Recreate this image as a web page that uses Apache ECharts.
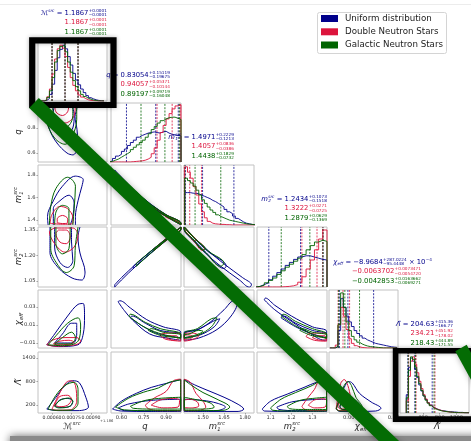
<!DOCTYPE html>
<html><head><meta charset="utf-8">
<script src="https://cdn.jsdelivr.net/npm/echarts@6/dist/echarts.min.js"></script>
<style>html,body{margin:0;padding:0;background:#fff}#c{width:471px;height:441px}</style>
</head><body><div id="c"></div>
<script>
// ---------------- data ----------------
const populations = ['Uniform distribution', 'Double Neutron Stars', 'Galactic Neutron Stars'];
const popColors = ['#00008b', '#dc143c', '#006400'];

// posterior summaries: [median, +err, -err] for uniform, DNS, GNS
const summaryMc  = [['1.1867', '0.0001', '0.0001'], ['1.1867', '0.0001', '0.0001'], ['1.1867', '0.0001', '0.0001']];
const summaryQ   = [['0.83054', '0.15119', '0.19675'], ['0.94057', '0.05371', '0.10144'], ['0.89197', '0.09719', '0.16048']];
const summaryM1  = [['1.4971', '0.2229', '0.1213'], ['1.4057', '0.0836', '0.0386'], ['1.4438', '0.1829', '0.0732']];
const summaryM2  = [['1.2434', '0.1073', '0.1518'], ['1.3222', '0.0271', '0.0725'], ['1.2879', '0.0629', '0.1369']];
const summaryChi = [['−8.9684', '287.0224', '95.4448'], ['−0.0063702', '0.0073471', '0.0054720'], ['−0.0042853', '0.0163662', '0.0069271']];
const chiUniformExponent = -4;
const summaryLam = [['204.63', '415.36', '166.77'], ['234.21', '451.92', '178.02'], ['218.43', '444.89', '171.55']];
const mcOffset = 1.186;

// tick values and labels
const ticksMcX  = [0.0006, 0.00075, 0.0009];   const tickLabelsMcX  = ['0.00060', '0.00075', '0.00090'];
const ticksQX   = [0.6, 0.75, 0.9];            const tickLabelsQX   = ['0.60', '0.75', '0.90'];
const ticksQY   = [0.6, 0.8];                  const tickLabelsQY   = ['0.6', '0.8'];
const ticksM1X  = [1.5, 1.65, 1.8];            const tickLabelsM1X  = ['1.50', '1.65', '1.80'];
const ticksM1Y  = [1.4, 1.6, 1.8];             const tickLabelsM1Y  = ['1.4', '1.6', '1.8'];
const ticksM2X  = [1.1, 1.2, 1.3];             const tickLabelsM2X  = ['1.1', '1.2', '1.3'];
const ticksM2Y  = [1.05, 1.2, 1.35];           const tickLabelsM2Y  = ['1.05', '1.20', '1.35'];
const ticksChiX = [0, 0.05];                   const tickLabelsChiX = ['0.00', '0.05'];
const ticksChiY = [-0.01, 0.01, 0.03];         const tickLabelsChiY = ['−0.01', '0.01', '0.03'];
const ticksLamX = [400, 800, 1200];            const tickLabelsLamX = ['400', '800', '1200'];
const ticksLamY = [200, 800, 1400];            const tickLabelsLamY = ['200', '800', '1400'];

// marginal histograms (fraction of panel height), bins from start with fixed width
const histMcBins = [0.0005, 0.00002];
const histMcUniform = [0,0,0.01,0.04,0.11,0.28,0.51,0.72,0.86,0.93,0.87,0.74,0.6,0.46,0.35,0.27,0.2,0.14,0.09,0.055,0.035,0.02,0.01,0.005,0];
const histMcDns     = [0,0,0.02,0.07,0.2,0.45,0.7,0.87,0.93,0.88,0.74,0.56,0.39,0.26,0.17,0.1,0.065,0.04,0.02,0.01,0.005,0,0,0,0];
const histMcGns     = [0,0,0.02,0.06,0.17,0.39,0.65,0.84,0.91,0.93,0.82,0.65,0.48,0.34,0.24,0.17,0.11,0.075,0.045,0.03,0.015,0.01,0,0,0];

const histQBins = [0.52, 0.02];
const histQUniform = [0.02,0.06,0.1,0.13,0.18,0.22,0.28,0.33,0.37,0.42,0.45,0.47,0.49,0.5,0.51,0.5,0.49,0.51,0.52,0.49,0.47,0.46,0.45,0.44];
const histQDns     = [0,0,0,0,0,0,0,0.005,0.01,0.015,0.02,0.03,0.05,0.08,0.14,0.24,0.37,0.5,0.62,0.73,0.82,0.9,0.95,0.97];
const histQGns     = [0.01,0.03,0.05,0.08,0.11,0.14,0.17,0.21,0.25,0.29,0.33,0.37,0.42,0.48,0.55,0.6,0.66,0.7,0.73,0.75,0.76,0.76,0.74,0.72];

const histM1Bins = [1.37, 0.02];
const histM1Uniform = [0.54,0.54,0.53,0.53,0.52,0.5,0.48,0.46,0.44,0.41,0.39,0.36,0.33,0.3,0.26,0.22,0.19,0.15,0.11,0.08,0.05,0.03,0.02,0.01,0];
const histM1Dns     = [0.97,0.88,0.78,0.64,0.5,0.35,0.22,0.12,0.06,0.03,0.02,0.015,0.01,0.01,0.005,0.005,0,0,0,0,0,0,0,0,0];
const histM1Gns     = [0.78,0.74,0.7,0.65,0.58,0.5,0.42,0.36,0.3,0.25,0.21,0.17,0.14,0.12,0.1,0.08,0.07,0.06,0.05,0.04,0.03,0.02,0.015,0.01,0.005];

const histM2Bins = [1.03, 0.02];
const histM2Uniform = [0.01,0.04,0.07,0.12,0.18,0.24,0.3,0.36,0.41,0.46,0.5,0.52,0.52,0.5,0.48,0.46,0.45];
const histM2Dns     = [0,0,0,0,0,0,0.005,0.01,0.02,0.04,0.08,0.17,0.3,0.45,0.62,0.8,0.95];
const histM2Gns     = [0.01,0.03,0.07,0.11,0.15,0.21,0.27,0.33,0.38,0.43,0.48,0.54,0.62,0.69,0.75,0.78,0.76];

const histChiBins = [-0.021, 0.003];
const histChiUniform = [0,0,0.02,0.3,0.85,0.7,0.55,0.45,0.37,0.3,0.25,0.21,0.17,0.14,0.12,0.1,0.08,0.07,0.06,0.05,0.04,0.03,0.02,0.015,0.01];
const histChiDns     = [0,0,0.05,0.4,0.7,0.55,0.32,0.16,0.08,0.04,0.02,0.01,0.005,0,0,0,0,0,0,0,0,0,0,0,0];
const histChiGns     = [0,0,0.03,0.4,0.95,0.7,0.45,0.3,0.2,0.14,0.1,0.07,0.05,0.035,0.025,0.02,0.015,0.01,0.005,0,0,0,0,0,0];

const histLamBins = [0, 50];
const histLamUniform = [0.3,0.75,0.9,0.85,0.72,0.58,0.46,0.36,0.28,0.22,0.17,0.13,0.1,0.08,0.065,0.05,0.04,0.035,0.03,0.025,0.02,0.02,0.015,0.015,0.01,0.01,0.01,0.005,0.005,0.005];
const histLamDns     = [0.2,0.6,0.85,0.92,0.8,0.66,0.52,0.4,0.3,0.23,0.17,0.13,0.1,0.08,0.06,0.05,0.04,0.03,0.025,0.02,0.015,0.012,0.01,0.008,0.006,0.005,0.004,0.003,0.002,0.001];
const histLamGns     = [0.25,0.7,0.92,0.88,0.75,0.6,0.48,0.37,0.28,0.21,0.16,0.12,0.09,0.07,0.055,0.045,0.035,0.03,0.025,0.02,0.016,0.013,0.01,0.008,0.006,0.005,0.004,0.003,0.002,0.001];

// credible-region contours [x, y]: uniform 50%, uniform 90%, DNS 50%, DNS 90%, GNS 50%, GNS 90%
const contourQMc = [
  [[0.00062,1.0],[0.00061,0.92],[0.00066,0.82],[0.00072,0.76],[0.00076,0.8],[0.00077,0.9],[0.00075,1.0]],
  [[0.00055,1.0],[0.000546,0.94],[0.000584,0.78],[0.000638,0.68],[0.000715,0.6],[0.00076,0.585],[0.0008,0.65],[0.000792,0.79],[0.000777,0.89],[0.000792,0.97],[0.000777,1.0]],
  [[0.00062,1.0],[0.00063,0.93],[0.00068,0.9],[0.00072,0.93],[0.00073,1.0]],
  [[0.00054,1.0],[0.00056,0.9],[0.00062,0.85],[0.0007,0.84],[0.00077,0.9],[0.00078,1.0]],
  [[0.0006,1.0],[0.00062,0.88],[0.00067,0.8],[0.00073,0.82],[0.00076,0.9],[0.00076,1.0]],
  [[0.00055,1.0],[0.00056,0.85],[0.00062,0.72],[0.0007,0.67],[0.00075,0.72],[0.00079,0.87],[0.00079,1.0]]
];
const contourM1Mc = [
  [[0.00061,1.355],[0.00061,1.5],[0.00066,1.57],[0.00073,1.62],[0.00077,1.55],[0.00076,1.43],[0.00074,1.355]],
  [[0.00057,1.355],[0.000565,1.43],[0.00061,1.57],[0.00068,1.7],[0.00078,1.79],[0.00084,1.76],[0.00083,1.7],[0.0008,1.57],[0.00078,1.43],[0.00078,1.355]],
  [[0.00064,1.375],[0.00064,1.41],[0.00068,1.44],[0.00072,1.41],[0.00072,1.375],[0.00068,1.368],[0.00064,1.375]],
  [[0.000585,1.37],[0.0006,1.45],[0.00066,1.52],[0.00072,1.5],[0.00076,1.42],[0.00076,1.37],[0.00068,1.362],[0.000585,1.37]],
  [[0.00062,1.355],[0.00063,1.47],[0.00068,1.53],[0.00073,1.5],[0.00073,1.355]],
  [[0.00058,1.355],[0.00059,1.52],[0.00063,1.68],[0.00072,1.78],[0.00078,1.7],[0.00077,1.5],[0.00076,1.355]]
];
const contourM2Mc = [
  [[0.00062,1.368],[0.00062,1.25],[0.00066,1.16],[0.00072,1.13],[0.00076,1.17],[0.00075,1.28],[0.00075,1.368]],
  [[0.000584,1.368],[0.000584,1.22],[0.00065,1.127],[0.000754,1.068],[0.00083,1.056],[0.000854,1.103],[0.000815,1.215],[0.0008,1.309],[0.000815,1.368]],
  [[0.00065,1.35],[0.00063,1.33],[0.00066,1.28],[0.00071,1.27],[0.00074,1.31],[0.00071,1.35],[0.00065,1.35]],
  [[0.00062,1.362],[0.00058,1.34],[0.00062,1.27],[0.0007,1.22],[0.00077,1.25],[0.0008,1.32],[0.00076,1.362],[0.00062,1.362]],
  [[0.00063,1.368],[0.00063,1.27],[0.00068,1.21],[0.00073,1.24],[0.00074,1.368]],
  [[0.00059,1.368],[0.00059,1.24],[0.00064,1.15],[0.00071,1.1],[0.00077,1.14],[0.00078,1.26],[0.0008,1.368]]
];
const contourChiMc = [
  [[0.00062,-0.01],[0.00068,0.0],[0.00075,0.012],[0.00079,0.012],[0.00079,0.0],[0.00076,-0.01],[0.00062,-0.01]],
  [[0.00056,-0.012],[0.00062,0.0],[0.00072,0.02],[0.0008,0.033],[0.00084,0.034],[0.00085,0.02],[0.00084,0.0],[0.0008,-0.012],[0.00065,-0.014],[0.00056,-0.012]],
  [[0.00061,-0.011],[0.00066,-0.008],[0.00073,-0.007],[0.00077,-0.009],[0.00073,-0.0115],[0.00064,-0.012],[0.00061,-0.011]],
  [[0.00056,-0.012],[0.0006,-0.007],[0.0007,-0.004],[0.00079,-0.004],[0.00082,-0.008],[0.00078,-0.012],[0.00062,-0.0135],[0.00056,-0.012]],
  [[0.00062,-0.011],[0.00068,-0.004],[0.00075,0.002],[0.00078,-0.004],[0.00074,-0.011],[0.00062,-0.011]],
  [[0.00057,-0.012],[0.00063,-0.002],[0.00072,0.012],[0.0008,0.018],[0.00082,0.01],[0.0008,-0.008],[0.00068,-0.013],[0.00057,-0.012]]
];
const contourLamMc = [
  [[0.00062,180],[0.00066,330],[0.00072,370],[0.00076,300],[0.00074,170],[0.00066,140],[0.00062,180]],
  [[0.00056,100],[0.00063,400],[0.0007,700],[0.00076,820],[0.00081,770],[0.00086,400],[0.00088,150],[0.0008,60],[0.00065,60],[0.00056,100]],
  [[0.00062,200],[0.00066,420],[0.00072,450],[0.00075,350],[0.00072,200],[0.00066,160],[0.00062,200]],
  [[0.0006,100],[0.00065,450],[0.00071,780],[0.00075,820],[0.00078,700],[0.00079,300],[0.00074,80],[0.00063,70],[0.0006,100]],
  [[0.00062,170],[0.00066,320],[0.00073,380],[0.00076,300],[0.00073,160],[0.00065,130],[0.00062,170]],
  [[0.00057,100],[0.00063,450],[0.0007,700],[0.00077,780],[0.0008,600],[0.0008,250],[0.00074,70],[0.00062,70],[0.00057,100]]
];
const contourM1Q = [
  [[0.68,1.665],[0.8,1.532],[0.9,1.443],[1.0,1.366],[1.0,1.36],[0.9,1.436],[0.8,1.522],[0.68,1.65],[0.68,1.665]],
  [[0.555,1.845],[0.6,1.782],[0.7,1.648],[0.8,1.538],[0.9,1.447],[1.0,1.37],[1.0,1.355],[0.9,1.43],[0.8,1.516],[0.7,1.622],[0.6,1.76],[0.555,1.83],[0.555,1.845]],
  [[0.89,1.448],[0.95,1.403],[1.0,1.366],[1.0,1.36],[0.95,1.396],[0.89,1.44],[0.89,1.448]],
  [[0.82,1.51],[0.9,1.445],[1.0,1.368],[1.0,1.357],[0.9,1.433],[0.82,1.497],[0.82,1.51]],
  [[0.82,1.515],[0.9,1.444],[1.0,1.366],[1.0,1.36],[0.9,1.436],[0.82,1.502],[0.82,1.515]],
  [[0.7,1.65],[0.8,1.535],[0.9,1.446],[1.0,1.369],[1.0,1.356],[0.9,1.432],[0.8,1.52],[0.7,1.625],[0.7,1.65]]
];
const contourM2Q = [
  [[0.68,1.138],[0.8,1.226],[0.9,1.297],[1.0,1.366],[1.0,1.36],[0.9,1.291],[0.8,1.218],[0.68,1.124],[0.68,1.138]],
  [[0.555,1.028],[0.6,1.07],[0.7,1.152],[0.8,1.228],[0.9,1.3],[1.0,1.37],[1.0,1.357],[0.9,1.288],[0.8,1.215],[0.7,1.14],[0.6,1.056],[0.555,1.014],[0.555,1.028]],
  [[0.89,1.292],[0.95,1.33],[1.0,1.366],[1.0,1.36],[0.95,1.324],[0.89,1.284],[0.89,1.292]],
  [[0.82,1.242],[0.9,1.299],[1.0,1.368],[1.0,1.358],[0.9,1.289],[0.82,1.23],[0.82,1.242]],
  [[0.82,1.24],[0.9,1.296],[1.0,1.366],[1.0,1.36],[0.9,1.29],[0.82,1.232],[0.82,1.24]],
  [[0.7,1.155],[0.8,1.228],[0.9,1.298],[1.0,1.368],[1.0,1.358],[0.9,1.29],[0.8,1.216],[0.7,1.137],[0.7,1.155]]
];
const contourM2M1 = [
  [[1.366,1.366],[1.443,1.297],[1.532,1.226],[1.665,1.138],[1.65,1.124],[1.522,1.218],[1.436,1.291],[1.366,1.36],[1.366,1.366]],
  [[1.365,1.37],[1.447,1.3],[1.538,1.228],[1.648,1.152],[1.782,1.07],[1.845,1.028],[1.83,1.014],[1.76,1.056],[1.622,1.14],[1.516,1.215],[1.43,1.288],[1.365,1.357],[1.365,1.37]],
  [[1.366,1.366],[1.403,1.33],[1.448,1.292],[1.44,1.284],[1.396,1.324],[1.366,1.36],[1.366,1.366]],
  [[1.368,1.368],[1.445,1.299],[1.51,1.242],[1.497,1.23],[1.433,1.289],[1.368,1.358],[1.368,1.368]],
  [[1.366,1.366],[1.444,1.296],[1.515,1.24],[1.502,1.232],[1.436,1.29],[1.366,1.36],[1.366,1.366]],
  [[1.369,1.368],[1.446,1.298],[1.535,1.228],[1.65,1.155],[1.625,1.137],[1.52,1.216],[1.432,1.29],[1.369,1.358],[1.369,1.368]]
];
const contourChiQ = [
  [[0.66,0.018],[0.75,0.008],[0.85,0.0],[0.998,-0.004],[0.998,0.0],[0.86,0.004],[0.76,0.012],[0.67,0.02],[0.66,0.018]],
  [[0.577,0.036],[0.62,0.026],[0.678,0.015],[0.79,0.0],[0.906,-0.0045],[0.998,-0.007],[0.998,0.002],[0.88,0.008],[0.77,0.016],[0.66,0.029],[0.59,0.037],[0.577,0.036]],
  [[0.9,-0.004],[0.95,-0.007],[0.98,-0.006],[0.97,-0.002],[0.92,-0.002],[0.9,-0.004]],
  [[0.86,-0.002],[0.9,-0.006],[0.998,-0.008],[0.998,0.0],[0.92,0.001],[0.87,0.0],[0.86,-0.002]],
  [[0.78,0.004],[0.87,-0.002],[0.998,-0.004],[0.998,-0.001],[0.88,0.002],[0.8,0.006],[0.78,0.004]],
  [[0.65,0.02],[0.74,0.009],[0.85,0.001],[0.998,-0.005],[0.998,0.0],[0.86,0.006],[0.76,0.013],[0.66,0.022],[0.65,0.02]]
];
const contourChiM1 = [
  [[1.367,-0.004],[1.48,-0.001],[1.58,0.008],[1.62,0.017],[1.57,0.014],[1.48,0.006],[1.367,0.0],[1.367,-0.004]],
  [[1.367,-0.007],[1.47,-0.0045],[1.6,0.005],[1.7,0.02],[1.745,0.035],[1.72,0.037],[1.65,0.027],[1.55,0.013],[1.45,0.004],[1.367,0.002],[1.367,-0.007]],
  [[1.367,-0.006],[1.41,-0.005],[1.43,-0.003],[1.4,-0.001],[1.367,-0.002],[1.367,-0.006]],
  [[1.367,-0.008],[1.43,-0.006],[1.47,-0.002],[1.43,0.001],[1.367,0.0],[1.367,-0.008]],
  [[1.367,-0.004],[1.43,-0.002],[1.5,0.003],[1.47,0.004],[1.4,0.0],[1.367,-0.001],[1.367,-0.004]],
  [[1.367,-0.005],[1.47,-0.001],[1.56,0.008],[1.6,0.018],[1.56,0.017],[1.46,0.006],[1.367,0.001],[1.367,-0.005]]
];
const contourChiM2 = [
  [[1.15,0.018],[1.22,0.008],[1.3,0.0],[1.368,-0.004],[1.368,0.0],[1.3,0.004],[1.22,0.012],[1.16,0.02],[1.15,0.018]],
  [[1.07,0.038],[1.12,0.027],[1.2,0.014],[1.28,0.002],[1.36,-0.007],[1.368,-0.007],[1.368,0.003],[1.3,0.008],[1.2,0.02],[1.12,0.032],[1.075,0.04],[1.07,0.038]],
  [[1.3,-0.004],[1.34,-0.007],[1.365,-0.006],[1.36,-0.002],[1.32,-0.002],[1.3,-0.004]],
  [[1.27,-0.003],[1.31,-0.007],[1.368,-0.008],[1.368,0.0],[1.32,0.001],[1.28,0.0],[1.27,-0.003]],
  [[1.24,0.004],[1.3,-0.002],[1.368,-0.004],[1.368,-0.001],[1.3,0.002],[1.25,0.006],[1.24,0.004]],
  [[1.15,0.02],[1.22,0.009],[1.3,0.0],[1.368,-0.005],[1.368,0.0],[1.3,0.006],[1.22,0.014],[1.16,0.022],[1.15,0.02]]
];
const contourLamQ = [
  [[0.58,130],[0.65,230],[0.8,320],[0.998,350],[0.998,60],[0.8,50],[0.62,60],[0.58,130]],
  [[0.54,100],[0.6,300],[0.7,500],[0.8,650],[0.9,750],[0.998,850],[0.998,40],[0.8,40],[0.6,50],[0.54,100]],
  [[0.8,200],[0.86,330],[0.95,370],[0.99,320],[0.98,150],[0.88,130],[0.8,200]],
  [[0.76,200],[0.82,380],[0.9,550],[0.95,820],[0.998,860],[0.998,60],[0.85,60],[0.78,110],[0.76,200]],
  [[0.66,170],[0.75,310],[0.85,370],[0.998,400],[0.998,100],[0.8,100],[0.68,120],[0.66,170]],
  [[0.56,150],[0.65,380],[0.75,530],[0.85,640],[0.92,780],[0.998,840],[0.998,60],[0.8,60],[0.62,80],[0.56,150]]
];
const contourLamM1 = [
  [[1.367,350],[1.5,320],[1.6,250],[1.66,150],[1.6,60],[1.45,50],[1.367,60],[1.367,350]],
  [[1.367,850],[1.45,700],[1.55,550],[1.65,400],[1.75,220],[1.79,100],[1.75,40],[1.55,40],[1.367,40],[1.367,850]],
  [[1.367,330],[1.41,350],[1.46,280],[1.47,180],[1.42,130],[1.367,140],[1.367,330]],
  [[1.367,860],[1.41,780],[1.45,500],[1.5,300],[1.52,150],[1.45,60],[1.367,60],[1.367,860]],
  [[1.367,400],[1.45,340],[1.55,260],[1.58,150],[1.5,100],[1.367,100],[1.367,400]],
  [[1.367,840],[1.42,700],[1.5,520],[1.6,350],[1.69,150],[1.65,70],[1.5,60],[1.367,60],[1.367,840]]
];
const contourLamM2 = [
  [[1.13,150],[1.2,280],[1.3,340],[1.368,350],[1.368,60],[1.22,60],[1.14,90],[1.13,150]],
  [[1.06,100],[1.1,300],[1.18,480],[1.26,650],[1.32,780],[1.368,820],[1.368,40],[1.2,40],[1.07,50],[1.06,100]],
  [[1.28,200],[1.31,330],[1.35,360],[1.368,320],[1.36,150],[1.31,130],[1.28,200]],
  [[1.25,170],[1.28,400],[1.31,600],[1.33,800],[1.368,860],[1.368,60],[1.3,60],[1.26,100],[1.25,170]],
  [[1.18,170],[1.24,320],[1.32,380],[1.368,400],[1.368,90],[1.25,90],[1.19,110],[1.18,170]],
  [[1.1,130],[1.15,350],[1.22,520],[1.3,700],[1.34,820],[1.368,830],[1.368,50],[1.2,50],[1.11,70],[1.1,130]]
];
const contourLamChi = [
  [[-0.01,150],[-0.006,350],[0.0,420],[0.006,350],[0.012,200],[0.006,80],[-0.005,70],[-0.01,150]],
  [[-0.014,100],[-0.01,350],[-0.005,650],[0.0,800],[0.004,760],[0.012,500],[0.025,280],[0.036,120],[0.03,50],[0.01,40],[-0.01,40],[-0.014,100]],
  [[-0.012,150],[-0.01,350],[-0.006,420],[-0.003,330],[-0.002,170],[-0.006,100],[-0.01,110],[-0.012,150]],
  [[-0.014,120],[-0.012,400],[-0.009,750],[-0.005,850],[-0.001,700],[0.002,400],[0.003,150],[-0.003,60],[-0.011,60],[-0.014,120]],
  [[-0.01,150],[-0.007,350],[-0.002,420],[0.003,330],[0.005,160],[0.0,90],[-0.007,90],[-0.01,150]],
  [[-0.014,100],[-0.01,400],[-0.005,700],[-0.001,800],[0.003,700],[0.008,400],[0.015,150],[0.008,50],[-0.01,50],[-0.014,100]]
];

// ---------------- layout ----------------
const FONT = '"DejaVu Sans"';
const colLeft = [38, 111, 184, 257, 329, 400];
const colWidth = [69, 70, 70, 70, 69, 69];
const rowTop = [41, 103, 165, 227, 290, 352];
const rowHeight = [60, 59, 60, 60, 58, 61];

const params = [
  { x: [0.000492, 0.001023], tx: [ticksMcX, tickLabelsMcX], tickFont: 4.6, hist: [histMcBins, histMcUniform, histMcDns, histMcGns], summary: summaryMc },
  { x: [0.53, 1.0], y: [0.528, 1.0], tx: [ticksQX, tickLabelsQX], ty: [ticksQY, tickLabelsQY], hist: [histQBins, histQUniform, histQDns, histQGns], summary: summaryQ },
  { x: [1.365, 1.863], y: [1.355, 1.889], tx: [ticksM1X, tickLabelsM1X], ty: [ticksM1Y, tickLabelsM1Y], hist: [histM1Bins, histM1Uniform, histM1Dns, histM1Gns], summary: summaryM1 },
  { x: [1.035, 1.37], y: [1.015, 1.368], tx: [ticksM2X, tickLabelsM2X], ty: [ticksM2Y, tickLabelsM2Y], hist: [histM2Bins, histM2Uniform, histM2Dns, histM2Gns], summary: summaryM2 },
  { x: [-0.022, 0.055], y: [-0.0156, 0.049], tx: [ticksChiX, tickLabelsChiX], ty: [ticksChiY, tickLabelsChiY], hist: [histChiBins, histChiUniform, histChiDns, histChiGns], summary: summaryChi },
  { x: [-150, 1500], y: [0, 1550], tx: [ticksLamX, tickLabelsLamX], ty: [ticksLamY, tickLabelsLamY], hist: [histLamBins, histLamUniform, histLamDns, histLamGns], summary: summaryLam }
];
const contours = {
  '1,0': contourQMc, '2,0': contourM1Mc, '3,0': contourM2Mc, '4,0': contourChiMc, '5,0': contourLamMc,
  '2,1': contourM1Q, '3,1': contourM2Q, '4,1': contourChiQ, '5,1': contourLamQ,
  '3,2': contourM2M1, '4,2': contourChiM1, '5,2': contourLamM1,
  '4,3': contourChiM2, '5,3': contourLamM2,
  '5,4': contourLamChi
};

const num = s => parseFloat(String(s).replace('−', '-'));
function quantiles(pi, k) {
  const [m, p, n] = params[pi].summary[k];
  let scale = 1, shift = 0;
  if (pi === 4 && k === 0) scale = Math.pow(10, chiUniformExponent);
  if (pi === 0) shift = -mcOffset;
  const med = num(m);
  return [(med - num(n)) * scale + shift, med * scale + shift, (med + num(p)) * scale + shift];
}

function labelFn(ticks) {
  return v => {
    const i = ticks[0].findIndex(t => Math.abs(t - v) <= Math.abs(t) * 1e-6 + 1e-12);
    return i >= 0 ? ticks[1][i] : '';
  };
}
function tickLabel(show, ticks, size) {
  return { show, customValues: ticks[0], formatter: labelFn(ticks), fontSize: size || 5.2, fontFamily: 'DejaVu Sans', color: '#333', margin: 2.5,
    hideOverlap: false, showMinLabel: true, showMaxLabel: true };
}

const grids = [], xAxes = [], yAxes = [], series = [];
let gi = 0;
for (let r = 0; r < 6; r++) {
  for (let c = 0; c <= r; c++) {
    grids.push({ left: colLeft[c], top: rowTop[r], width: colWidth[c], height: rowHeight[r],
      show: true, borderColor: '#c2c2c2', borderWidth: 1, backgroundColor: 'transparent' });
    const px = params[c];
    const showX = r === 5, showY = c === 0 && r > 0;
    xAxes.push({ type: 'value', gridIndex: gi, min: px.x[0], max: px.x[1],
      axisLine: { show: false }, splitLine: { show: false },
      axisTick: { show: showX, customValues: px.tx[0], length: 1.6, lineStyle: { color: '#777', width: 0.6 } },
      axisLabel: tickLabel(showX, px.tx, px.tickFont) });
    if (r === c) {
      yAxes.push({ type: 'value', gridIndex: gi, min: 0, max: 1, axisLine: { show: false }, splitLine: { show: false }, axisTick: { show: false }, axisLabel: { show: false } });
      const h = px.hist;
      for (let k = 0; k < 3; k++) {
        quantiles(c, k).forEach(v => series.push({
          type: 'line', xAxisIndex: gi, yAxisIndex: gi, data: [[v, 0], [v, 1]], symbol: 'none', silent: true, clip: true, z: 2,
          lineStyle: { color: popColors[k], width: 0.8, type: [2, 1.3] }
        }));
      }
      for (let k = 0; k < 3; k++) {
        const counts = h[k + 1], start = h[0][0], w = h[0][1];
        const pts = [[start, 0]];
        counts.forEach((v, i) => pts.push([start + i * w, v]));
        const end = start + counts.length * w;
        pts.push([end, counts[counts.length - 1]], [end, 0]);
        series.push({ type: 'line', name: populations[k], xAxisIndex: gi, yAxisIndex: gi, data: pts, step: 'end', symbol: 'none', silent: true, clip: true, z: 3,
          lineStyle: { color: popColors[k], width: 0.9 } });
      }
    } else {
      const py = params[r];
      yAxes.push({ type: 'value', gridIndex: gi, min: py.y[0], max: py.y[1],
        axisLine: { show: false }, splitLine: { show: false },
        axisTick: { show: showY, customValues: py.ty[0], length: 1.6, lineStyle: { color: '#777', width: 0.6 } },
        axisLabel: tickLabel(showY, py.ty) });
      const cs = contours[r + ',' + c];
      cs.forEach((line, j) => series.push({ type: 'line', name: populations[j >> 1], xAxisIndex: gi, yAxisIndex: gi, data: line,
        smooth: 0.35, symbol: 'none', silent: true, clip: true, z: 3,
        lineStyle: { color: popColors[j >> 1], width: 1 } }));
    }
    gi++;
  }
}

// ---------------- text helpers ----------------
const meas = document.createElement('canvas').getContext('2d');
function tw(t, font) { meas.font = font; return meas.measureText(t).width; }
function txt(x, y, t, font, fill, z) {
  return { type: 'text', x, y, z: z || 20, silent: true, style: { text: t, font, fill, align: 'left', verticalAlign: 'middle' } };
}
function mathRow(segs, x, y, align, color, size, z) {
  const small = size * 0.62;
  let w = 0;
  const items = segs.map(s => {
    if (typeof s === 'string') s = { t: s };
    if (s.t !== undefined) {
      const font = (s.it ? 'italic ' : '') + size + 'px ' + FONT;
      const width = tw(s.t, font);
      w += width;
      return { kind: 'main', t: s.t, font, width };
    }
    const font = (s.it ? 'italic ' : '') + small + 'px ' + FONT;
    const width = Math.max(s.sup ? tw(s.sup, font) : 0, s.sub ? tw(s.sub, font) : 0) + size * 0.06;
    w += width;
    return { kind: 'script', sup: s.sup, sub: s.sub, font, width };
  });
  let cx = align === 'right' ? x - w : align === 'center' ? x - w / 2 : x;
  const els = [];
  items.forEach(it => {
    if (it.kind === 'main') els.push(txt(cx, y, it.t, it.font, color, z));
    else {
      if (it.sup) els.push(txt(cx + size * 0.04, y - size * 0.34, it.sup, it.font, color, z));
      if (it.sub) els.push(txt(cx + size * 0.04, y + size * 0.32, it.sub, it.font, color, z));
    }
    cx += it.width;
  });
  return els;
}

const symbols = [
  [{ t: 'ℳ' }, { sup: 'src', it: true }],
  [{ t: 'q', it: true }],
  [{ t: 'm', it: true }, { sup: 'src', sub: '1', it: true }],
  [{ t: 'm', it: true }, { sup: 'src', sub: '2', it: true }],
  [{ t: 'χ', it: true }, { sub: 'eff', it: true }],
  [{ t: 'Λ̃', it: true }]
];

const elements = [];
// page edge and drop shadow
elements.push({ type: 'rect', z: 0, silent: true, shape: { x: 10, y: 436, width: 480, height: 20 },
  style: { fill: '#8a8a8a', shadowBlur: 8, shadowColor: 'rgba(0,0,0,0.6)' } });
elements.push({ type: 'line', z: 0, silent: true, shape: { x1: 0, y1: 4.5, x2: 471, y2: 4.5 }, style: { stroke: '#ececec', lineWidth: 1 } });

// summary annotations above each marginal
const titleRight = [107, 170, 234, 327, 432, 453];
for (let c = 0; c < 6; c++) {
  const s = params[c].summary;
  for (let k = 0; k < 3; k++) {
    const y = rowTop[c] - 28 + k * 9.6;
    let segs = [];
    if (k === 0) segs = segs.concat(symbols[c], [{ t: ' = ' + s[k][0] }]);
    else segs.push({ t: s[k][0] });
    segs.push({ sup: '+' + s[k][1], sub: '−' + s[k][2] });
    if (c === 4 && k === 0) segs.push({ t: ' × 10' }, { sup: '−4' });
    const R = (c === 4 && k > 0) ? 421 : titleRight[c];
    elements.push(...mathRow(segs, R, y, 'right', popColors[k], 6.8));
  }
}

// axis titles
const xTitleCx = [72, 145, 217, 292, 361, 437];
for (let c = 0; c < 6; c++) elements.push(...mathRow(symbols[c], xTitleCx[c], 427, 'center', '#222', 8.5));
const yTitleCy = [0, 132, 195, 257, 319, 382];
for (let r = 1; r < 6; r++) elements.push({ type: 'group', x: 18.5, y: yTitleCy[r], rotation: Math.PI / 2, silent: true, z: 20,
  children: mathRow(symbols[r], 0, 0, 'center', '#222', 8.5) });
elements.push(txt(100, 421, '+1.186', '3.6px ' + FONT, '#444'));

// legend
elements.push({ type: 'rect', z: 20, silent: true, shape: { x: 317.5, y: 12.5, width: 129, height: 41, r: 2 },
  style: { fill: '#fff', stroke: '#d4d4d4', lineWidth: 1 } });
const legendY = [18.5, 31.8, 45];
populations.forEach((p, k) => {
  elements.push({ type: 'rect', z: 21, silent: true, shape: { x: 321, y: legendY[k] - 3.5, width: 17, height: 7 }, style: { fill: popColors[k] } });
  elements.push(txt(345, legendY[k], p, '8.7px ' + FONT, '#222', 21));
});

// highlight frames and diagonal strokes
elements.push({ type: 'rect', z: 100, silent: true, shape: { x: 32.2, y: 40.3, width: 81.3, height: 64.7 },
  style: { fill: 'none', stroke: '#000', lineWidth: 6.2, shadowBlur: 4, shadowColor: 'rgba(0,0,0,0.3)' } });
elements.push({ type: 'rect', z: 100, silent: true, shape: { x: 395.6, y: 350.8, width: 95, height: 68.3 },
  style: { fill: 'none', stroke: '#000', lineWidth: 5.6, shadowBlur: 4, shadowColor: 'rgba(0,0,0,0.3)' } });
elements.push({ type: 'line', z: 110, silent: true, shape: { x1: 34, y1: 103, x2: 412, y2: 463 },
  style: { stroke: '#046c04', lineWidth: 14, lineCap: 'butt', shadowBlur: 6, shadowColor: 'rgba(0,0,0,0.35)', shadowOffsetX: 2, shadowOffsetY: 3 } });
elements.push({ type: 'line', z: 110, silent: true, shape: { x1: 461, y1: 348, x2: 495, y2: 410 },
  style: { stroke: '#046c04', lineWidth: 13, lineCap: 'butt', shadowBlur: 6, shadowColor: 'rgba(0,0,0,0.35)', shadowOffsetX: 2, shadowOffsetY: 3 } });

const chart = echarts.init(document.getElementById('c'), null, { renderer: 'canvas' });
chart.setOption({ animation: false, backgroundColor: '#fff', grid: grids, xAxis: xAxes, yAxis: yAxes, series, graphic: { elements } });
</script></body></html>
